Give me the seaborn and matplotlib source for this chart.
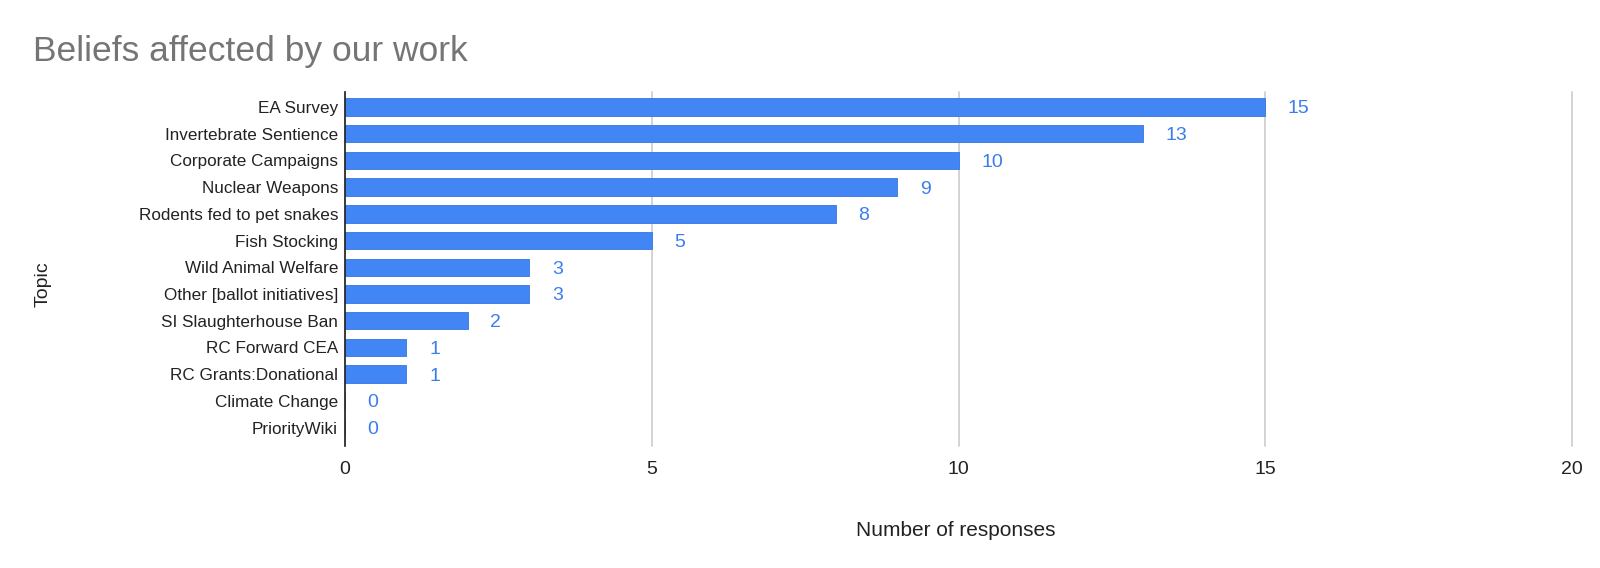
import numpy as np
import pandas as pd
import seaborn as sns
import matplotlib.pyplot as plt

# data
topics = [
    "EA Survey", "Invertebrate Sentience", "Corporate Campaigns", "Nuclear Weapons",
    "Rodents fed to pet snakes", "Fish Stocking", "Wild Animal Welfare",
    "Other [ballot initiatives]", "SI Slaughterhouse Ban", "RC Forward CEA",
    "RC Grants:Donational", "Climate Change", "PriorityWiki",
]
responses = [15, 13, 10, 9, 8, 5, 3, 3, 2, 1, 1, 0, 0]
x_ticks = [0, 5, 10, 15, 20]

BAR_BLUE = "#4285f4"
TEXT_BLUE = "#3b7ded"
W, H = 1600, 568
# axes box in pixels
L, R, T, B = 345, 1572, 92, 446

sns.set_theme(style="white")
plt.rcParams['font.family'] = ['Liberation Sans', 'DejaVu Sans']

df = pd.DataFrame({"Topic": topics, "Number of responses": responses})

fig = plt.figure(figsize=(W / 100, H / 100), dpi=100)
ax = fig.add_axes([L / W, 1 - B / H, (R - L) / W, (B - T) / H])

sns.barplot(
    data=df, y="Topic", x="Number of responses", ax=ax,
    color=BAR_BLUE, width=0.65, edgecolor="#3874e0", linewidth=0.6,
    saturation=1,
)

ax.set_xlim(0, 20)
ax.set_ylim(len(topics) - 1 + 0.69, -0.56)
ax.set_xticks(x_ticks)
ax.set_xticklabels([str(t) for t in x_ticks], fontsize=14, color="#222222")
ax.tick_params(axis="y", labelsize=12.3, labelcolor="#222222", length=0, pad=5)
ax.tick_params(axis="x", length=0, pad=11)
ax.xaxis.grid(True, color="#cccccc", linewidth=1.2)
for gl in ax.get_xgridlines():
    gl.set_clip_on(False)
ax.set_axisbelow(True)
for side in ["top", "right", "bottom"]:
    ax.spines[side].set_visible(False)
ax.spines["left"].set_color("#222222")
ax.spines["left"].set_linewidth(1.2)

for i, v in enumerate(responses):
    ax.text(v + 0.37, i, str(v), va="center_baseline", ha="left", fontsize=14, color=TEXT_BLUE)

ax.set_xlabel("Number of responses", fontsize=15, color="#222222")
ax.xaxis.set_label_coords(0.498, (B - 521) / (B - T))
ax.xaxis.label.set_va("top")
ax.set_ylabel("Topic", fontsize=14, color="#222222")
ax.yaxis.set_label_coords((52 - L) / (R - L), (B - 284) / (B - T))

fig.text(33 / W, 1 - 61 / H, "Beliefs affected by our work", fontsize=25.5,
         color="#757575", va="baseline", ha="left")

fig.savefig("out.png", dpi=100, facecolor="white")
